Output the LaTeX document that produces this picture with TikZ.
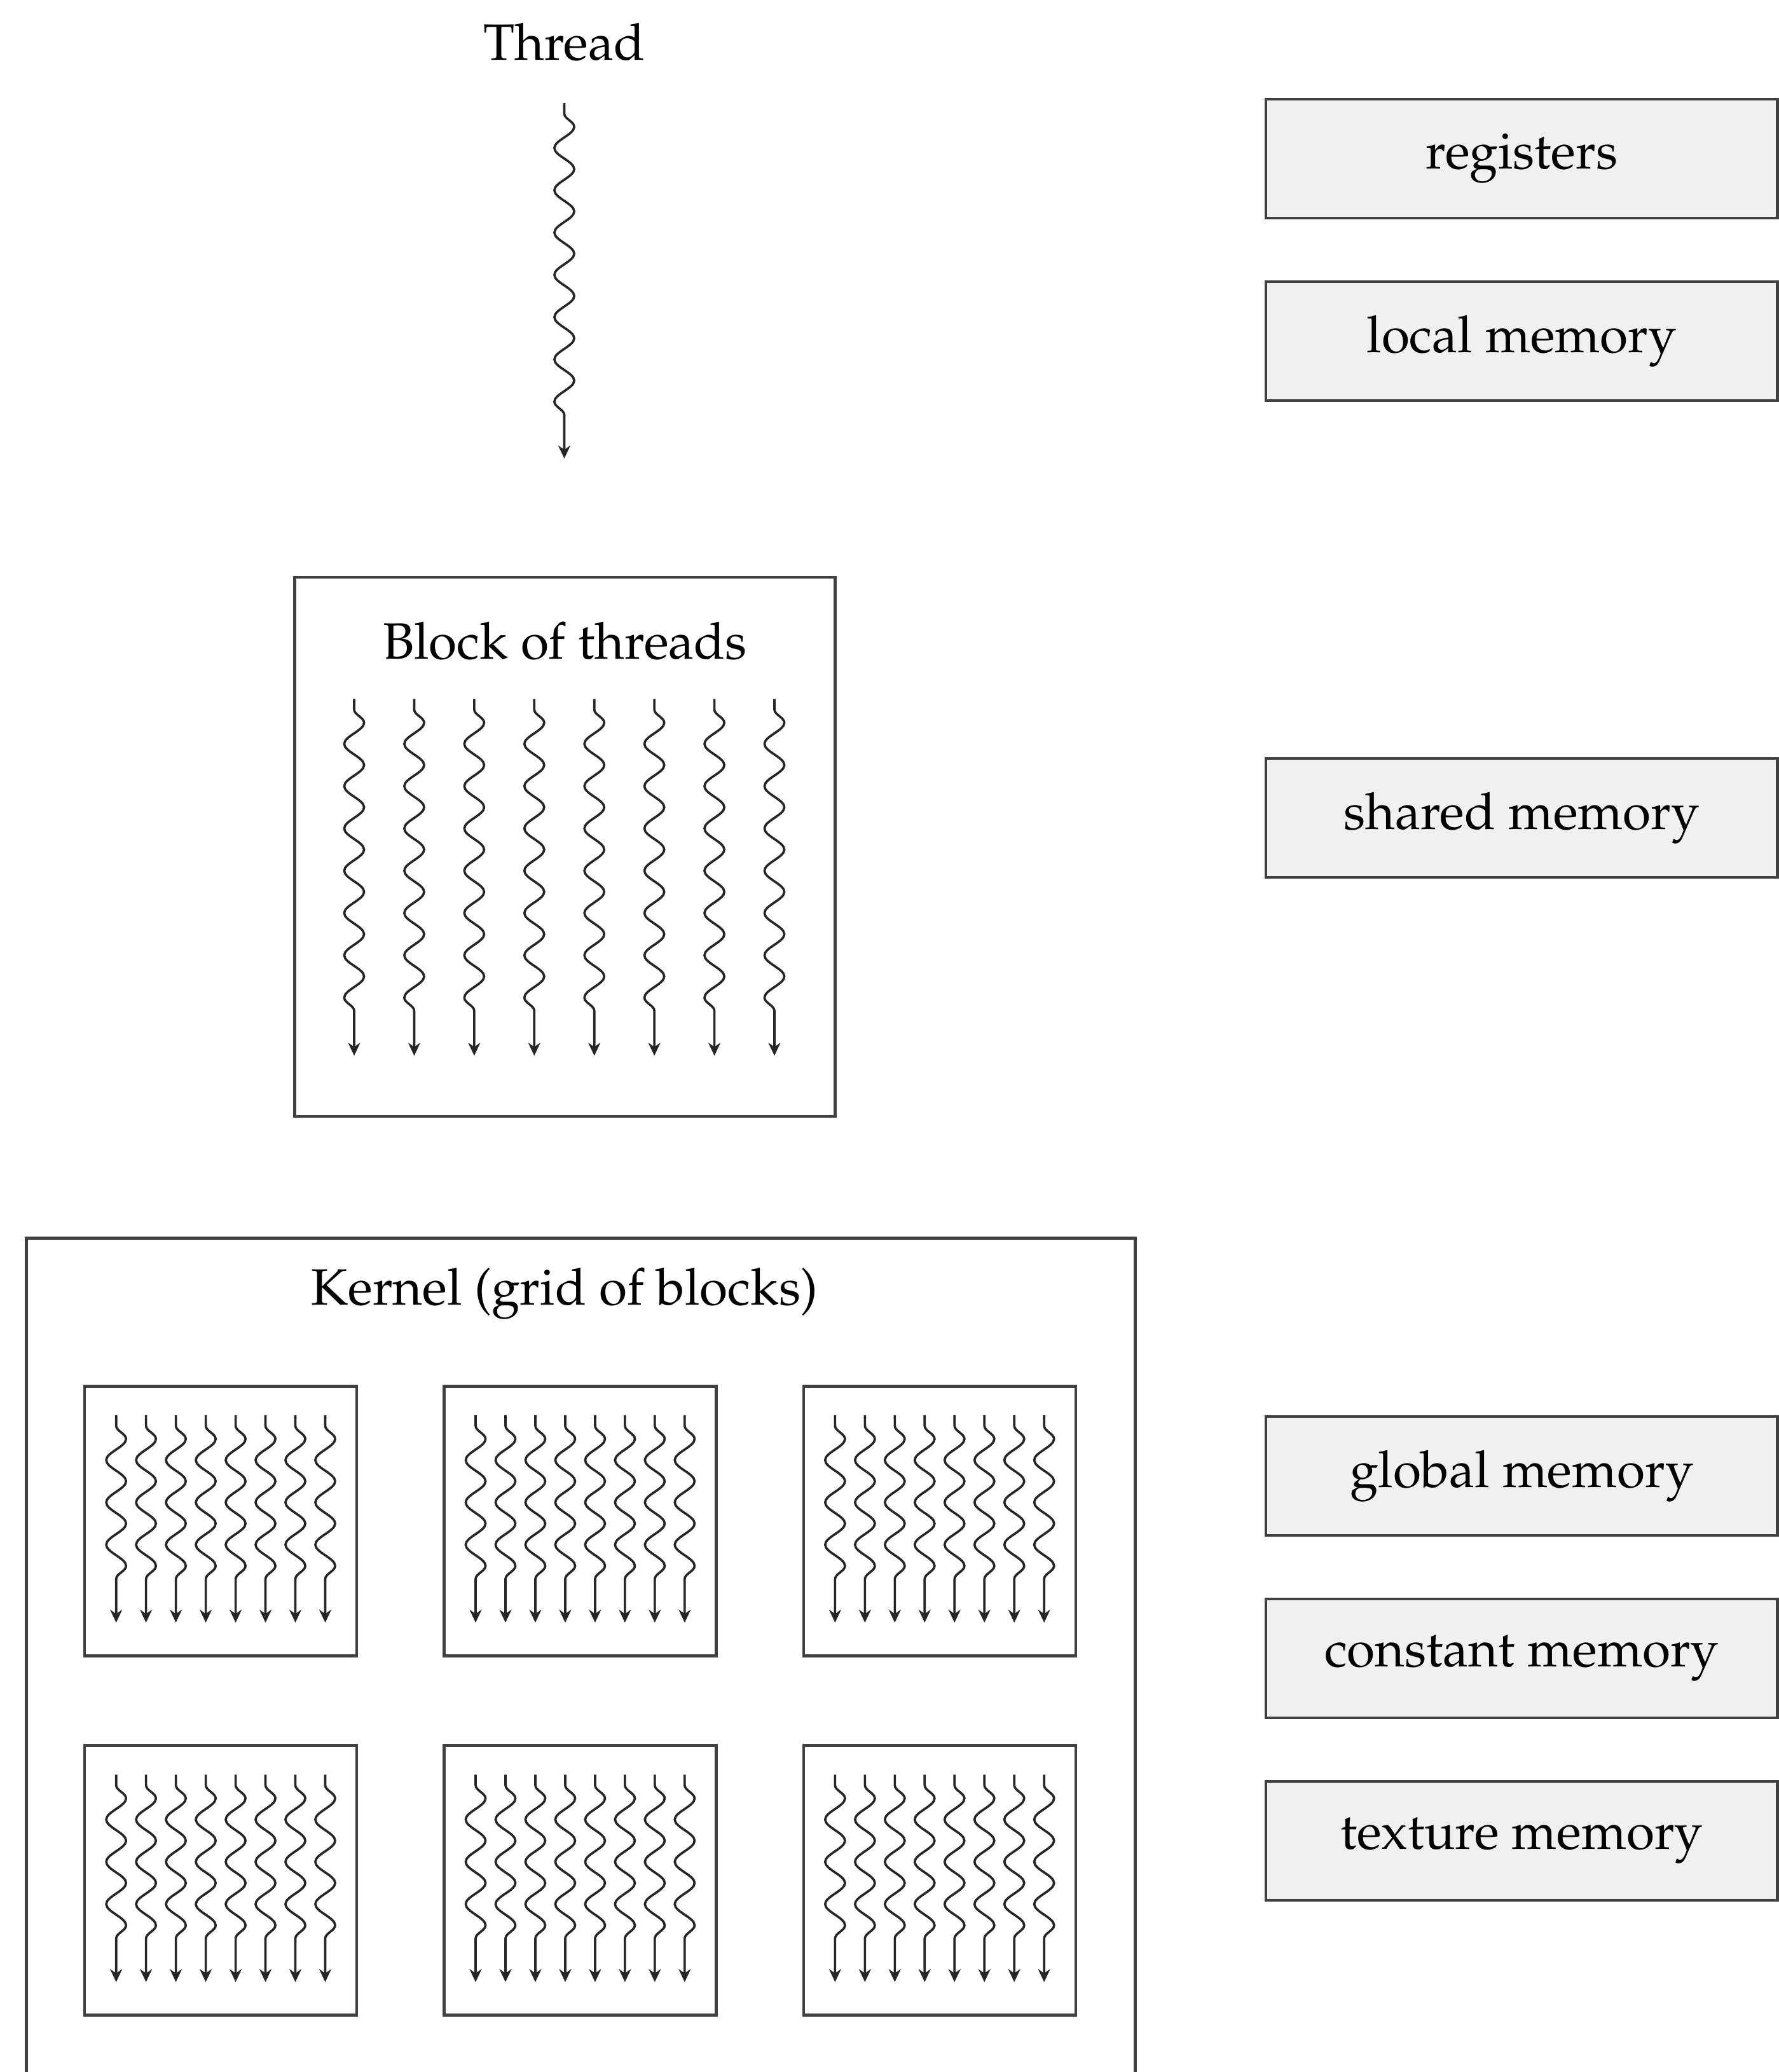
\documentclass[tikz,border=0pt]{standalone}
\usepackage[T1]{fontenc}
\usepackage{mathpazo}
\usepackage{tikz}
\usetikzlibrary{positioning}
\usetikzlibrary{arrows.meta}
\usetikzlibrary{calc, fit, decorations.pathmorphing}
\tikzset{%
	% Specifications for style of nodes:
	base/.style = {rectangle, draw=black!75, line width=0.6pt,
		inner sep=0pt, text centered},
	memory/.style = {base, minimum width=3.87cm, minimum height=0.9cm, fill=black!6},
	blockBox/.style = {base, minimum width=4.09cm, minimum height=4.08cm},
	smallBlock/.style = {base, minimum width=2.06cm, minimum height=2.04cm},
	% wavy thread line
	thread/.style = {draw=black!85, line width=0.5pt,
		-{Stealth[length=2.8pt, width=2.6pt]},
		decorate, decoration={snake, segment length=0.32cm, amplitude=0.075cm,
			pre length=0.08cm, post length=0.24cm}}
}

\begin{document}
\begin{tikzpicture}[every node/.style={font=\fontsize{11pt}{13pt}\selectfont}]
	\useasboundingbox (0,0) rectangle (13.46,-15.68);
	% single thread
	\node (threadLabel) at (4.27,-0.32) {Thread};
	\coordinate (threadTop) at (4.27,-0.78);
	\coordinate (threadEnd) at (4.27,-3.47);
	\draw[thread] (threadTop) -- (threadEnd);
	% block of threads
	\node (block) [blockBox] at (4.275,-6.41) {};
	\node (blockLabel) at ([yshift=-0.49cm]block.north) {Block of threads};
	\foreach \i in {0,...,7} {
		\coordinate (bt\i) at ([xshift=0.4543cm*\i-1.595cm, yshift=-0.93cm]block.north);
		\draw[thread] (bt\i) -- ++(0,-2.7);
	}
	% kernel (grid of blocks)
	\node (kernel) [base, anchor=north west, minimum width=8.39cm, minimum height=6.8cm] at (0.19,-9.36) {};
	\node (kernelLabel) at (4.27,-9.79) {Kernel (grid of blocks)};
	\foreach \r in {0,1}
		\foreach \c in {0,1,2} {
			\node (sb\r\c) [smallBlock] at ($(kernel.north west)+(1.48+2.72*\c,-2.15-2.72*\r)$) {};
			\foreach \i in {0,...,7} {
				\coordinate (st\r\c\i) at ([xshift=0.226cm*\i-0.791cm, yshift=-0.23cm]sb\r\c.north);
				\draw[thread] (st\r\c\i) -- ++(0,-1.57);
			}
		}
	% memory spaces
	\node (registers) [memory] at (11.515,-1.20) {registers};
	\node (localMem) [memory, below=0.46cm of registers] {local memory};
	\node (sharedMem) [memory] at (11.515,-6.19) {shared memory};
	\node (globalMem) [memory] at (11.515,-11.17) {global memory};
	\node (constantMem) [memory, below=0.46cm of globalMem] {constant memory};
	\node (textureMem) [memory, below=0.46cm of constantMem] {texture memory};
\end{tikzpicture}
\end{document}
